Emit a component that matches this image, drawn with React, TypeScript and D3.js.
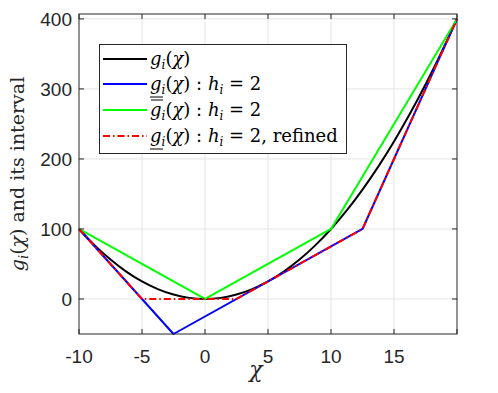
import { useRef, useEffect } from "react";
import * as d3 from "d3";

// g(chi) curve, sampled
const curveX = [-10, -8.75, -7.5, -6.25, -5, -3.75, -2.5, -1.25, 0, 1.25, 2.5, 3.75, 5, 6.25, 7.5, 8.75, 10, 11.25, 12.5, 13.75, 15, 16.25, 17.5, 18.75, 20];
const curveY = [100, 76.6, 56.3, 39.1, 25, 14.1, 6.3, 1.6, 0, 1.6, 6.3, 14.1, 25, 39.1, 56.3, 76.6, 100, 126.6, 156.3, 189.1, 225, 264.1, 306.3, 351.6, 400];
// lower bound h=2
const lowerX = [-10, -2.5, 12.5, 20];
const lowerY = [100, -50, 100, 400];
// upper bound h=2
const upperX = [-10, 0, 10, 20];
const upperY = [100, 0, 100, 400];
// refined lower bound
const refinedX = [-10, -5, 2.5, 12.5, 20];
const refinedY = [100, 0, 0, 100, 400];

const xTicks = [-10, -5, 0, 5, 10, 15, 20];
const xTickLabels = ["-10", "-5", "0", "5", "10", "15", ""];
const yTicks = [0, 100, 200, 300, 400];

const App = () => {
  const svgRef = useRef<SVGSVGElement>(null);

  useEffect(() => {
    const width = 498;
    const height = 393;
    const margin = { left: 79, top: 14, right: 41, bottom: 59 };
    const ink = "#262626";

    const svg = d3.select(svgRef.current).attr("width", width).attr("height", height);
    svg.selectAll("*").remove();

    const x = d3.scaleLinear().domain([-10, 20]).range([margin.left, width - margin.right]);
    const y = d3.scaleLinear().domain([-50, 407]).range([height - margin.bottom, margin.top]);

    const x0 = margin.left, x1 = width - margin.right;
    const y0 = height - margin.bottom, y1 = margin.top;

    svg.append("rect").attr("x", x0).attr("y", y1).attr("width", x1 - x0).attr("height", y0 - y1).attr("fill", "white");

    // grid
    const grid = svg.append("g").attr("stroke", "#e3e3e3").attr("stroke-width", 1);
    xTicks.slice(1, -1).forEach((t) => {
      grid.append("line").attr("x1", x(t)).attr("x2", x(t)).attr("y1", y0).attr("y2", y1);
    });
    yTicks.forEach((t) => {
      grid.append("line").attr("x1", x0).attr("x2", x1).attr("y1", y(t)).attr("y2", y(t));
    });

    const drawSeries = (xs: number[], ys: number[], color: string, dash?: string, curved?: boolean) => {
      const pts: [number, number][] = xs.map((v, i) => [x(v), y(ys[i])]);
      const gen = d3.line().curve(curved ? d3.curveMonotoneX : d3.curveLinear);
      const p = svg
        .append("path")
        .attr("d", gen(pts))
        .attr("fill", "none")
        .attr("stroke", color)
        .attr("stroke-width", 2)
        .attr("stroke-linejoin", "round");
      if (dash) p.attr("stroke-dasharray", dash);
    };

    drawSeries(curveX, curveY, "#000000", undefined, true);
    drawSeries(lowerX, lowerY, "#0000ff");
    drawSeries(upperX, upperY, "#00ff00");
    drawSeries(refinedX, refinedY, "#ff0000", "7,3,1.5,3");

    // axes box
    const axis = svg.append("g").attr("stroke", ink).attr("stroke-width", 1).attr("fill", "none");
    axis.append("rect").attr("x", x0).attr("y", y1).attr("width", x1 - x0).attr("height", y0 - y1);
    xTicks.forEach((t) => {
      axis.append("line").attr("x1", x(t)).attr("x2", x(t)).attr("y1", y0).attr("y2", y0 - 5);
      axis.append("line").attr("x1", x(t)).attr("x2", x(t)).attr("y1", y1).attr("y2", y1 + 5);
    });
    yTicks.forEach((t) => {
      axis.append("line").attr("x1", x0).attr("x2", x0 + 5).attr("y1", y(t)).attr("y2", y(t));
      axis.append("line").attr("x1", x1).attr("x2", x1 - 5).attr("y1", y(t)).attr("y2", y(t));
    });

    // tick labels
    const tickFont = "'Liberation Sans', Arial, sans-serif";
    xTicks.forEach((t, i) => {
      svg.append("text").attr("x", x(t)).attr("y", y0 + 29).attr("text-anchor", "middle")
        .attr("font-family", tickFont).attr("font-size", 19).attr("fill", ink).text(xTickLabels[i]);
    });
    yTicks.forEach((t) => {
      svg.append("text").attr("x", x0 - 7).attr("y", y(t) + 7).attr("text-anchor", "end")
        .attr("font-family", tickFont).attr("font-size", 19).attr("fill", ink).text(String(t));
    });

    const mathSerif = "'DejaVu Serif', serif";

    // x label
    svg.append("text").attr("x", 256).attr("y", 377).attr("text-anchor", "middle")
      .attr("font-family", mathSerif).attr("font-style", "italic").attr("font-size", 22).attr("fill", ink).text("χ");

    // y label
    const yl = svg.append("text").attr("transform", `translate(24,174) rotate(-90)`).attr("text-anchor", "middle")
      .attr("font-family", mathSerif).attr("font-size", 19).attr("fill", ink);
    yl.append("tspan").attr("font-style", "italic").text("g");
    yl.append("tspan").attr("font-style", "italic").attr("font-size", 13).attr("dy", 4).text("i");
    yl.append("tspan").attr("dy", -4).text("(");
    yl.append("tspan").attr("font-style", "italic").text("χ");
    yl.append("tspan").text(") and its interval");

    // legend
    const leg = svg.append("g");
    leg.append("rect").attr("x", 99.5).attr("y", 44.5).attr("width", 247).attr("height", 109)
      .attr("fill", "white").attr("stroke", ink).attr("stroke-width", 1);

    const entries = [
      { color: "#000000", dash: null, deco: "" },
      { color: "#0000ff", dash: null, deco: "under" },
      { color: "#00ff00", dash: null, deco: "over" },
      { color: "#ff0000", dash: "7,3,1.5,3", deco: "under" },
    ];
    const rowY = [59, 84, 110, 136];
    entries.forEach((e, i) => {
      const cy = rowY[i];
      const l = leg.append("line").attr("x1", 103).attr("x2", 147).attr("y1", cy).attr("y2", cy)
        .attr("stroke", e.color).attr("stroke-width", 2);
      if (e.dash) l.attr("stroke-dasharray", e.dash);
      const t = leg.append("text").attr("x", 150).attr("y", cy + 6)
        .attr("font-family", mathSerif).attr("font-size", 18).attr("fill", "#000");
      t.append("tspan").attr("font-style", "italic").text("g");
      t.append("tspan").attr("font-style", "italic").attr("font-size", 12).attr("dy", 4).text("i");
      t.append("tspan").attr("dy", -4).text("(");
      t.append("tspan").attr("font-style", "italic").text("χ");
      t.append("tspan").text(")");
      if (i > 0) {
        t.append("tspan").text(" : ");
        t.append("tspan").attr("font-style", "italic").text("h");
        t.append("tspan").attr("font-style", "italic").attr("font-size", 12).attr("dy", 4).text("i");
        t.append("tspan").attr("dy", -4).text(" = 2");
        if (i === 3) t.append("tspan").text(", refined");
      }
      if (e.deco === "under") {
        leg.append("line").attr("x1", 150).attr("x2", 163).attr("y1", cy + 13).attr("y2", cy + 13)
          .attr("stroke", "#000").attr("stroke-width", 1);
      } else if (e.deco === "over") {
        leg.append("line").attr("x1", 151).attr("x2", 163).attr("y1", cy - 10).attr("y2", cy - 10)
          .attr("stroke", "#000").attr("stroke-width", 1);
      }
    });
  }, []);

  return <svg ref={svgRef} style={{ position: "absolute", left: 0, top: 0 }} />;
};

export default App;
